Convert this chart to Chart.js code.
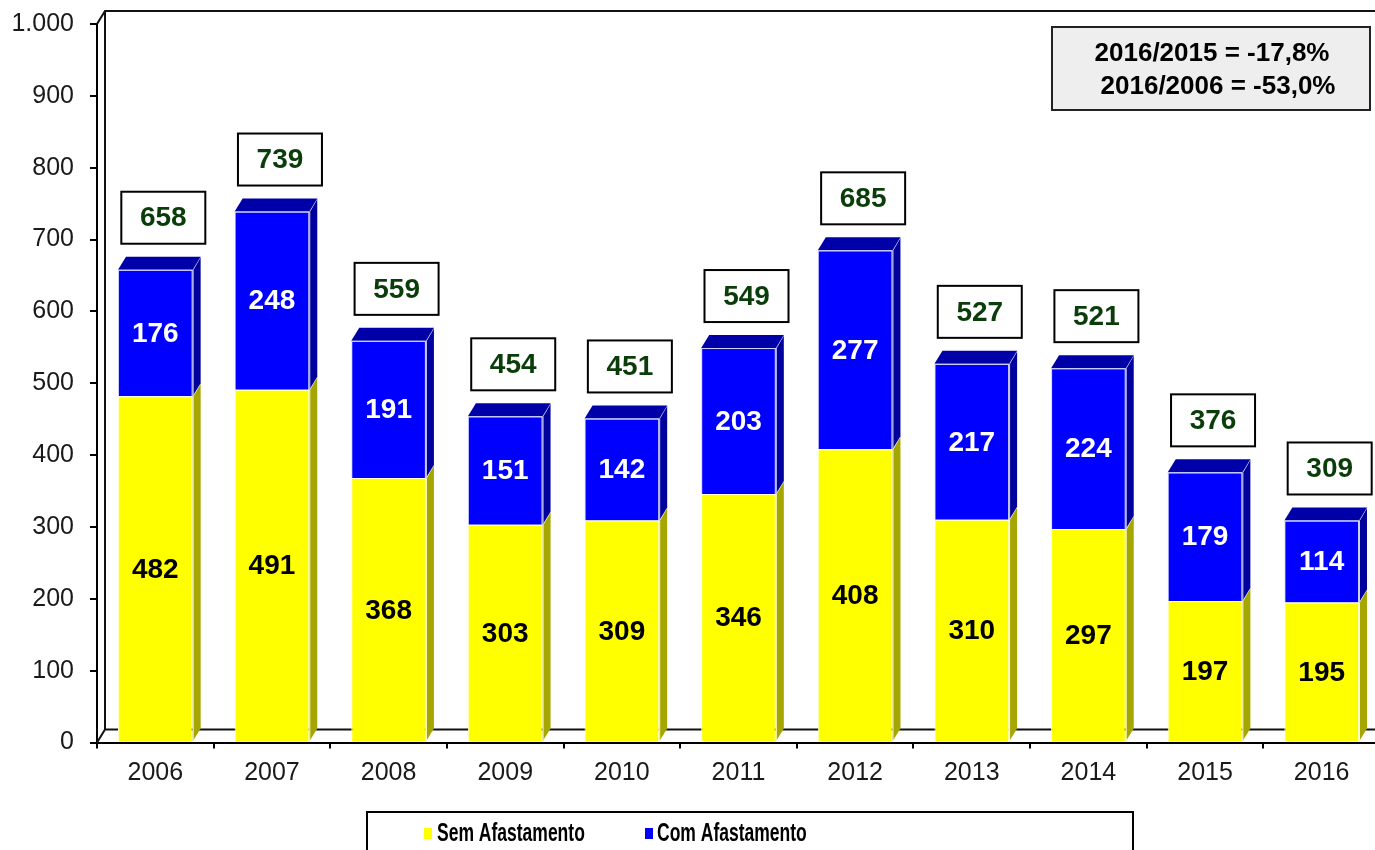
<!DOCTYPE html>
<html><head><meta charset="utf-8">
<script src="https://cdn.jsdelivr.net/npm/chart.js@4/dist/chart.umd.min.js"></script>
<style>html,body{margin:0;padding:0;background:#fff;overflow:hidden}</style>
</head><body>
<canvas id="c" width="1380" height="850"></canvas>
<script>
const categories = ['2006','2007','2008','2009','2010','2011','2012','2013','2014','2015','2016'];
const semAfastamento = [482,491,368,303,309,346,408,310,297,197,195];
const comAfastamento = [176,248,191,151,142,203,277,217,224,179,114];
const totals = [658,739,559,454,451,549,685,527,521,376,309];
const seriesNames = ['Sem Afastamento','Com Afastamento'];
const yMin = 0, yMax = 1000, yStep = 100;
const notes = ['2016/2015 = -17,8%','2016/2006 = -53,0%'];

const FONT = "'Liberation Sans', Arial, sans-serif";
const DX = 8, DY = 13;

function fmt(v){ return String(v).replace(/\B(?=(\d{3})+(?!\d))/g,'.'); }

const threeD = {
  id:'threeD',
  beforeDatasetsDraw(chart){
    const ctx = chart.ctx, a = chart.chartArea;
    ctx.save();
    ctx.strokeStyle = '#111'; ctx.lineWidth = 2;
    ctx.beginPath();
    ctx.moveTo(a.left, a.top); ctx.lineTo(a.left+DX, a.top-DY); ctx.lineTo(chart.width+5, a.top-DY);
    ctx.moveTo(a.left+DX, a.top-DY); ctx.lineTo(a.left+DX, a.bottom-DY); ctx.lineTo(chart.width+5, a.bottom-DY);
    ctx.moveTo(a.left, a.bottom); ctx.lineTo(a.left+DX, a.bottom-DY);
    ctx.stroke();
    ctx.restore();
  },
  afterDatasetsDraw(chart){
    const ctx = chart.ctx;
    ctx.save();
    const metas = chart.data.datasets.map((d,i)=>chart.getDatasetMeta(i));
    chart.data.datasets.forEach((ds,i)=>{
      metas[i].data.forEach(el=>{
        const r = el.x + el.width/2, t = Math.min(el.y, el.base), b = Math.max(el.y, el.base);
        ctx.fillStyle = ds.sideColor;
        ctx.beginPath();
        ctx.moveTo(r, b); ctx.lineTo(r, t); ctx.lineTo(r+DX, t-DY); ctx.lineTo(r+DX, b-DY); ctx.closePath();
        ctx.fill();
        ctx.strokeStyle = ds.borderColor; ctx.lineWidth = 1;
        ctx.beginPath(); ctx.moveTo(r+0.5, b); ctx.lineTo(r+0.5, t); ctx.lineTo(r+DX, t-DY); ctx.stroke();
      });
    });
    const last = chart.data.datasets.length-1, lds = chart.data.datasets[last];
    metas[last].data.forEach(el=>{
      const l = el.x - el.width/2, r = el.x + el.width/2, t = Math.min(el.y, el.base);
      ctx.fillStyle = lds.topColor;
      ctx.beginPath();
      ctx.moveTo(l, t); ctx.lineTo(r, t); ctx.lineTo(r+DX, t-DY); ctx.lineTo(l+DX, t-DY); ctx.closePath();
      ctx.fill();
      ctx.strokeStyle = lds.borderColor; ctx.lineWidth = 1;
      ctx.beginPath(); ctx.moveTo(l, t+0.5); ctx.lineTo(r, t+0.5); ctx.stroke();
    });
    ctx.textAlign = 'center'; ctx.textBaseline = 'middle';
    ctx.font = 'bold 28px ' + FONT;
    chart.data.datasets.forEach((ds,i)=>{
      metas[i].data.forEach((el,j)=>{
        ctx.fillStyle = ds.textColor;
        ctx.fillText(String(ds.data[j]), el.x, (el.y+el.base)/2 + 1);
      });
    });
    metas[last].data.forEach((el,j)=>{
      const cx = el.x + 8, cy = Math.min(el.y, el.base) - 52;
      ctx.fillStyle = '#fff'; ctx.fillRect(cx-42, cy-26, 84, 52);
      ctx.strokeStyle = '#000'; ctx.lineWidth = 2; ctx.strokeRect(cx-42, cy-26, 84, 52);
      ctx.fillStyle = '#0B3D0B';
      ctx.fillText(String(totals[j]), cx, cy+1);
    });
    ctx.fillStyle = '#EEEEEE'; ctx.fillRect(1052, 27, 318, 83);
    ctx.strokeStyle = '#222'; ctx.lineWidth = 2; ctx.strokeRect(1052, 27, 318, 83);
    ctx.fillStyle = '#000'; ctx.font = 'bold 26px ' + FONT;
    ctx.fillText(notes[0], 1212, 54);
    ctx.fillText(notes[1], 1218, 87);
    ctx.fillStyle = '#fff'; ctx.fillRect(367, 812, 766, 50);
    ctx.strokeStyle = '#000'; ctx.lineWidth = 2; ctx.strokeRect(367, 812, 766, 50);
    const items = [{mx:424, tx:437}, {mx:645, tx:657}];
    chart.data.datasets.forEach((ds,i)=>{
      const it = items[i];
      ctx.fillStyle = ds.backgroundColor; ctx.fillRect(it.mx, 828, 8, 11);
      ctx.save();
      ctx.translate(it.tx, 834); ctx.scale(0.7, 1);
      ctx.textAlign = 'left'; ctx.fillStyle = '#000'; ctx.font = 'bold 25px ' + FONT;
      ctx.fillText(ds.label, 0, 0);
      ctx.restore();
    });
    ctx.restore();
  }
};

new Chart(document.getElementById('c').getContext('2d'), {
  type:'bar',
  data:{labels:categories, datasets:[
    {label:seriesNames[0], data:semAfastamento, backgroundColor:'#FFFF00', borderColor:'#FFFFC8', borderWidth:1, sideColor:'#A6A600', textColor:'#000'},
    {label:seriesNames[1], data:comAfastamento, backgroundColor:'#0000FF', borderColor:'#D0D0FF', borderWidth:1, sideColor:'#00009C', topColor:'#0000A8', textColor:'#fff'}
  ]},
  options:{
    responsive:false, animation:false, devicePixelRatio:1,
    layout:{padding:{left:0,right:0,top:24,bottom:0}},
    datasets:{bar:{categoryPercentage:1, barPercentage:0.64}},
    plugins:{legend:{display:false}, tooltip:{enabled:false}},
    scales:{
      x:{stacked:true,
         grid:{drawOnChartArea:false, tickLength:6, color:'#000', lineWidth:2},
         border:{color:'#000', width:2},
         ticks:{font:{family:FONT, size:25}, color:'#1a1a1a', padding:10},
         afterFit(s){ s.height = 850-742.5; s.paddingLeft = 0; s.paddingRight = 0; }},
      y:{stacked:true, min:yMin, max:yMax,
         grid:{drawOnChartArea:false, tickLength:7, color:'#000', lineWidth:2},
         border:{color:'#000', width:2},
         ticks:{stepSize:yStep, font:{family:FONT, size:25, lineHeight:1}, color:'#1a1a1a', padding:16, callback:v=>fmt(v)},
         afterFit(s){ s.width = 97; s.paddingTop = 0; s.paddingBottom = 0; }}
    }
  },
  plugins:[threeD]
});
</script>
</body></html>
